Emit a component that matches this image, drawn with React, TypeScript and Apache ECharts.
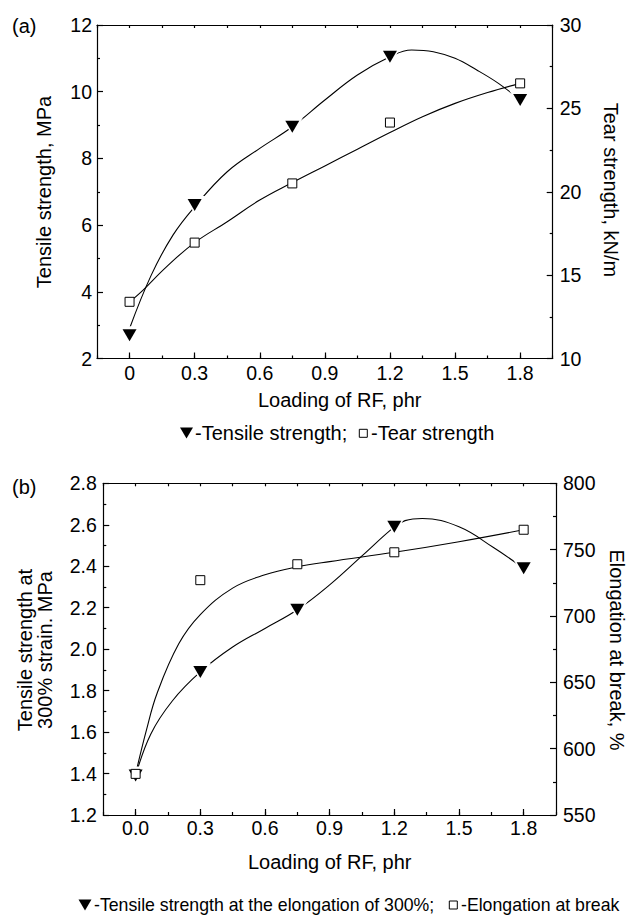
import React, { useEffect, useRef } from 'react';
import * as echarts from 'echarts';

// ---------- data ----------
const xMajorTicks = [0, 0.3, 0.6, 0.9, 1.2, 1.5, 1.8];

// (a)
const loadingA = [0, 0.3, 0.75, 1.2, 1.8];
const tensileA = [2.7, 6.6, 8.95, 11.05, 9.75];
const tearA = [13.4, 16.95, 20.5, 24.15, 26.5];
const tensileFitAX = [0, 0.1, 0.2, 0.3, 0.45, 0.6, 0.75, 0.9, 1.05, 1.2, 1.3, 1.4, 1.5, 1.6, 1.7, 1.8];
const tensileFitAY = [2.9, 4.5, 5.7, 6.55, 7.6, 8.3, 8.95, 9.75, 10.5, 11.05, 11.25, 11.2, 11.0, 10.65, 10.25, 9.75];
const tearFitAX = [0, 0.05, 0.17, 0.3, 0.45, 0.6, 0.75, 0.9, 1.05, 1.2, 1.35, 1.5, 1.65, 1.8];
const tearFitAY = [13.4, 13.95, 15.5, 16.95, 18.2, 19.5, 20.55, 21.55, 22.55, 23.55, 24.5, 25.3, 25.95, 26.5];

// (b)
const loadingB = [0, 0.3, 0.75, 1.2, 1.8];
const modulusB = [1.39, 1.89, 2.19, 2.59, 2.39];
const elongB = [581, 727, 739, 748, 765];
const modulusFitBX = [0, 0.07, 0.17, 0.3, 0.45, 0.6, 0.75, 0.9, 1.05, 1.2, 1.25, 1.33, 1.5, 1.66, 1.8];
const modulusFitBY = [1.39, 1.59, 1.75, 1.89, 2.01, 2.1, 2.19, 2.31, 2.45, 2.59, 2.62, 2.63, 2.59, 2.49, 2.39];
const elongFitBX = [0, 0.05, 0.1, 0.2, 0.3, 0.45, 0.6, 0.75, 0.9, 1.2, 1.5, 1.8];
const elongFitBY = [581, 614, 642, 679, 701, 721, 731, 737, 741, 748, 756, 765];

// ---------- styling helpers ----------
const FONT = "'Liberation Sans', Arial, Helvetica, sans-serif";
const BLACK = '#000';
const TICK_FS = 19.5;
const NAME_FS = 20;

const pairs = (xs: number[], ys: number[]) => xs.map((x, i) => [x, ys[i]]);

function makeXAxes(gridIndex: number, zeroLabel: string, labelMargin: number) {
  const line = { color: BLACK, width: 1.2 };
  return [
    {
      type: 'value', gridIndex, position: 'bottom', min: -0.15, max: 1.95,
      axisLine: { show: true, onZero: false, lineStyle: line },
      axisTick: { show: true, inside: true, length: 6, customValues: xMajorTicks, lineStyle: line },
      axisLabel: {
        show: true, customValues: xMajorTicks, color: BLACK, fontSize: TICK_FS, fontFamily: FONT, margin: labelMargin,
        formatter: (v: number) => (Math.abs(v) < 1e-9 ? zeroLabel : v.toFixed(1)),
      },
      splitLine: { show: false },
    },
    {
      type: 'value', gridIndex, position: 'bottom', min: -0.15, max: 1.95, interval: 0.15,
      axisLine: { show: false, onZero: false },
      axisTick: { show: true, inside: true, length: 3, lineStyle: line },
      axisLabel: { show: false }, splitLine: { show: false },
    },
    {
      type: 'value', gridIndex, position: 'top', min: -0.15, max: 1.95, interval: 0.15,
      axisLine: { show: true, onZero: false, lineStyle: line },
      axisTick: { show: true, inside: true, length: 3, lineStyle: line },
      axisLabel: { show: false }, splitLine: { show: false },
    },
  ];
}

function makeYAxis(gridIndex: number, position: string, min: number, max: number, interval: number, margin: number, decimals: number) {
  const line = { color: BLACK, width: 1.2 };
  return {
    type: 'value', gridIndex, position, min, max, interval,
    axisLine: { show: true, onZero: false, lineStyle: line },
    axisTick: { show: true, inside: true, length: 6, lineStyle: line },
    minorTick: { show: true, splitNumber: 2, length: 3, lineStyle: line },
    axisLabel: {
      show: true, color: BLACK, fontSize: TICK_FS, fontFamily: FONT, margin,
      showMinLabel: true, showMaxLabel: true,
      formatter: (v: number) => v.toFixed(decimals),
    },
    splitLine: { show: false },
  };
}

function fitLine(xAxisIndex: number, yAxisIndex: number, xs: number[], ys: number[]) {
  return {
    type: 'line', xAxisIndex, yAxisIndex, data: pairs(xs, ys), smooth: 0.4,
    showSymbol: false, symbol: 'none', silent: true, z: 2,
    lineStyle: { color: BLACK, width: 1.1 },
  };
}

function triangles(xAxisIndex: number, yAxisIndex: number, xs: number[], ys: number[]) {
  return [
    {
      type: 'scatter', xAxisIndex, yAxisIndex, data: pairs(xs, ys), symbol: 'triangle',
      symbolSize: [21, 18], symbolRotate: 180, z: 3, silent: true,
      itemStyle: { color: '#fff', opacity: 1 },
    },
    {
      type: 'scatter', xAxisIndex, yAxisIndex, data: pairs(xs, ys), symbol: 'triangle',
      symbolSize: [14, 12], symbolRotate: 180, z: 4, silent: true,
      itemStyle: { color: BLACK, opacity: 1 },
    },
  ];
}

function squares(xAxisIndex: number, yAxisIndex: number, xs: number[], ys: number[]) {
  return {
    type: 'scatter', xAxisIndex, yAxisIndex, data: pairs(xs, ys), symbol: 'rect',
    symbolSize: 9, z: 5, silent: true,
    itemStyle: { color: '#fff', borderColor: BLACK, borderWidth: 1, opacity: 1 },
  };
}

function txt(text: string, x: number, y: number, opts: any = {}) {
  return {
    type: 'text', x, y, rotation: opts.rotation || 0, silent: true,
    style: {
      text, fill: BLACK, fontSize: opts.fontSize || NAME_FS, fontFamily: FONT,
      align: opts.align || 'center', verticalAlign: 'middle',
    },
  };
}

function triShape(cx: number, cy: number, w: number, h: number) {
  return {
    type: 'polygon', silent: true,
    shape: { points: [[cx - w / 2, cy - h / 2], [cx + w / 2, cy - h / 2], [cx, cy + h / 2]] },
    style: { fill: BLACK },
  };
}

function sqShape(cx: number, cy: number, s: number) {
  return {
    type: 'rect', silent: true,
    shape: { x: cx - s / 2, y: cy - s / 2, width: s, height: s },
    style: { fill: '#fff', stroke: BLACK, lineWidth: 1 },
  };
}

const option: any = {
  animation: false,
  backgroundColor: '#fff',
  grid: [
    { left: 97, top: 25, width: 455.7, height: 333.5 },
    { left: 103.3, top: 483.3, width: 452.7, height: 331.7 },
  ],
  xAxis: [...makeXAxes(0, '0', 4), ...makeXAxes(1, '0.0', 3)],
  yAxis: [
    makeYAxis(0, 'left', 2, 12, 2, 5, 0),
    makeYAxis(0, 'right', 10, 30, 5, 7, 0),
    makeYAxis(1, 'left', 1.2, 2.8, 0.2, 6.5, 1),
    makeYAxis(1, 'right', 550, 800, 50, 7, 0),
  ],
  series: [
    fitLine(0, 0, tensileFitAX, tensileFitAY),
    fitLine(0, 1, tearFitAX, tearFitAY),
    ...triangles(0, 0, loadingA, tensileA),
    squares(0, 1, loadingA, tearA),
    fitLine(3, 2, modulusFitBX, modulusFitBY),
    fitLine(3, 3, elongFitBX, elongFitBY),
    ...triangles(3, 2, loadingB, modulusB),
    squares(3, 3, loadingB, elongB),
  ],
  graphic: [
    txt('(a)', 12, 26, { align: 'left' }),
    txt('(b)', 12, 487, { align: 'left' }),
    txt('Tensile strength, MPa', 44, 192, { rotation: Math.PI / 2 }),
    txt('Tear strength, kN/m', 611, 190, { rotation: -Math.PI / 2 }),
    txt('Loading of RF, phr', 258, 400, { align: 'left' }),
    triShape(186.5, 433, 13, 11),
    txt('-Tensile strength;', 195, 433, { align: 'left' }),
    sqShape(363.3, 433.3, 8),
    txt('-Tear strength', 371, 433, { align: 'left' }),
    txt('Tensile strength at', 25, 650, { rotation: Math.PI / 2 }),
    txt('300% strain. MPa', 45, 650, { rotation: Math.PI / 2 }),
    txt('Elongation at break, %', 617, 650, { rotation: -Math.PI / 2 }),
    txt('Loading of RF, phr', 248, 862, { align: 'left' }),
    triShape(85, 905, 13, 11),
    txt('-Tensile strength at the elongation of 300%;', 94, 905, { align: 'left', fontSize: 17.7 }),
    sqShape(453.3, 905, 8),
    txt('-Elongation at break', 461, 905, { align: 'left', fontSize: 17.7 }),
  ],
};

export default function App() {
  const ref = useRef<HTMLDivElement>(null);
  useEffect(() => {
    if (!ref.current) return;
    const chart = echarts.init(ref.current, null, { renderer: 'svg' });
    chart.setOption(option);
    return () => chart.dispose();
  }, []);
  return (
    <div
      ref={ref}
      style={{ position: 'fixed', left: 0, top: 0, width: 631, height: 915, background: '#fff' }}
    />
  );
}
